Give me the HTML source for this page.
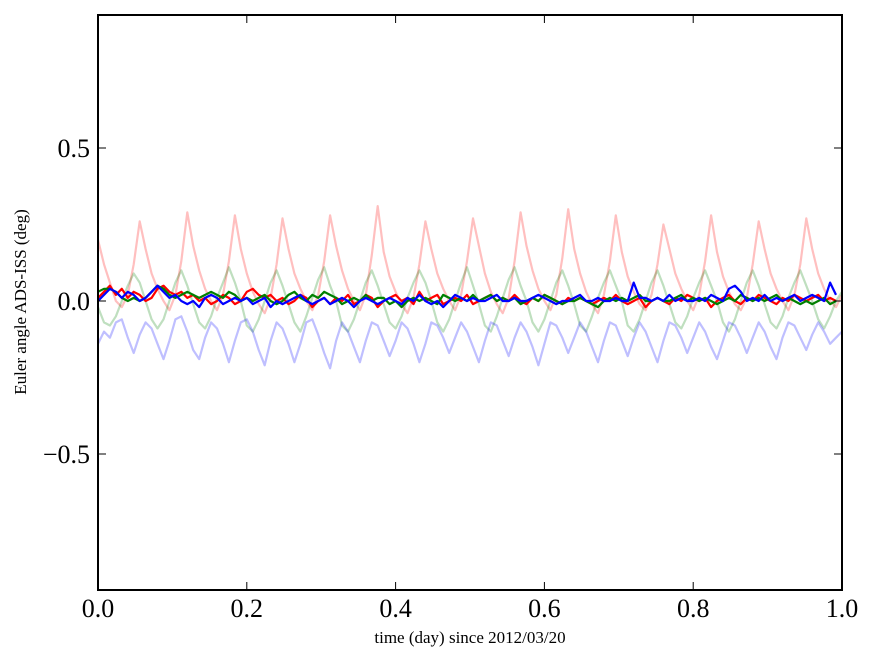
<!DOCTYPE html>
<html><head><meta charset="utf-8"><style>
html,body{margin:0;padding:0;background:#fff;}
svg text{font-family:"Liberation Serif",serif;fill:#000;}
</style></head><body>
<svg id="chart" width="875" height="662" xmlns="http://www.w3.org/2000/svg">
<defs><clipPath id="clip"><rect x="98" y="15" width="744" height="575"/></clipPath></defs>
<rect x="0" y="0" width="875" height="662" fill="#fff"/>
<g id="series" clip-path="url(#clip)"></g>
<g id="axes"></g>
<text x="470" y="643" font-size="17" text-anchor="middle">time (day) since 2012/03/20</text>
<text x="26" y="302" font-size="17" text-anchor="middle" transform="rotate(-90 26 302)">Euler angle ADS-ISS (deg)</text>
</svg>
<script>
const xStep = 0.008;
const xTicks = [0.0, 0.2, 0.4, 0.6, 0.8, 1.0];
const xTickLabels = ["0.0","0.2","0.4","0.6","0.8","1.0"];
const yTicks = [-0.5, 0.0, 0.5];
const yTickLabels = ["\u22120.5","0.0","0.5"];
const pinkLight = [0.2,0.12,0.06,0.0,-0.02,0.02,0.12,0.26,
0.17,0.09,0.04,0.0,-0.03,0.02,0.13,0.29,
0.18,0.1,0.04,0.0,-0.03,0.02,0.13,0.28,
0.17,0.09,0.03,-0.01,-0.04,0.01,0.12,0.27,
0.17,0.09,0.04,0.0,-0.03,0.02,0.13,0.28,
0.18,0.1,0.04,0.0,-0.03,0.02,0.15,0.31,
0.16,0.08,0.03,-0.01,-0.04,0.01,0.12,0.26,
0.17,0.09,0.04,0.0,-0.03,0.02,0.13,0.27,
0.18,0.09,0.03,-0.01,-0.04,0.01,0.13,0.29,
0.18,0.1,0.04,0.0,-0.03,0.02,0.14,0.30,
0.17,0.09,0.03,-0.01,-0.04,0.02,0.13,0.28,
0.16,0.08,0.03,-0.01,-0.03,0.02,0.12,0.25,
0.17,0.09,0.04,0.0,-0.03,0.02,0.13,0.28,
0.16,0.08,0.03,-0.01,-0.03,0.01,0.12,0.26,
0.17,0.09,0.04,0.0,-0.03,0.02,0.12,0.27,
0.17,0.09,0.04,0.0,-0.02,0.02];
const greenLight = [-0.02,-0.07,-0.08,-0.05,0.0,0.05,0.09,0.06,
0.0,-0.06,-0.09,-0.06,0.0,0.06,0.1,0.05,
-0.01,-0.07,-0.09,-0.05,0.01,0.06,0.11,0.06,
0.0,-0.08,-0.1,-0.06,0.0,0.06,0.1,0.05,
-0.01,-0.07,-0.1,-0.05,0.01,0.07,0.11,0.05,
0.0,-0.08,-0.1,-0.06,0.0,0.06,0.1,0.05,
-0.01,-0.07,-0.09,-0.05,0.01,0.06,0.1,0.06,
0.0,-0.07,-0.1,-0.06,0.0,0.06,0.11,0.05,
-0.01,-0.08,-0.1,-0.05,0.01,0.07,0.11,0.05,
0.0,-0.07,-0.1,-0.06,0.0,0.06,0.1,0.05,
-0.01,-0.08,-0.1,-0.05,0.01,0.06,0.1,0.05,
0.0,-0.08,-0.1,-0.06,0.0,0.06,0.1,0.05,
-0.01,-0.07,-0.09,-0.05,0.01,0.06,0.1,0.05,
0.0,-0.07,-0.1,-0.06,0.0,0.06,0.1,0.05,
-0.01,-0.07,-0.09,-0.05,0.01,0.06,0.1,0.05,
0.0,-0.06,-0.09,-0.05,0.0,0.03];
const blueLight = [-0.14,-0.1,-0.12,-0.07,-0.06,-0.12,-0.17,-0.11,
-0.07,-0.09,-0.14,-0.19,-0.13,-0.06,-0.05,-0.1,
-0.16,-0.19,-0.12,-0.07,-0.09,-0.14,-0.2,-0.13,
-0.07,-0.06,-0.1,-0.16,-0.21,-0.13,-0.07,-0.09,
-0.14,-0.2,-0.14,-0.07,-0.06,-0.11,-0.17,-0.22,
-0.13,-0.07,-0.1,-0.15,-0.2,-0.13,-0.07,-0.08,
-0.13,-0.18,-0.13,-0.07,-0.09,-0.14,-0.2,-0.14,
-0.07,-0.08,-0.12,-0.17,-0.12,-0.07,-0.1,-0.15,
-0.2,-0.13,-0.07,-0.08,-0.13,-0.18,-0.12,-0.07,
-0.1,-0.15,-0.21,-0.14,-0.07,-0.08,-0.12,-0.17,
-0.12,-0.07,-0.1,-0.15,-0.2,-0.13,-0.07,-0.08,
-0.13,-0.18,-0.12,-0.07,-0.1,-0.15,-0.2,-0.13,
-0.07,-0.08,-0.12,-0.17,-0.12,-0.07,-0.1,-0.15,
-0.19,-0.13,-0.07,-0.08,-0.12,-0.17,-0.12,-0.07,
-0.1,-0.15,-0.19,-0.12,-0.07,-0.08,-0.12,-0.16,
-0.11,-0.07,-0.1,-0.14,-0.12,-0.1];
const redDark = [0.01,0.03,0.05,0.02,0.04,0.01,0.03,0.02,0.0,0.01,
0.04,0.05,0.03,0.02,0.03,0.01,0.02,0.0,0.01,-0.01,
0.0,0.02,0.01,-0.01,0.0,0.03,0.04,0.02,0.01,0.02,
0.0,0.01,-0.01,0.0,0.02,0.01,-0.02,0.0,0.01,-0.01,
0.01,0.0,0.02,-0.01,0.0,0.02,0.01,-0.02,0.0,0.01,
0.02,0.0,0.01,-0.01,0.03,0.0,0.01,0.02,-0.01,0.0,
0.01,0.0,0.02,-0.01,0.0,0.01,0.02,0.0,0.01,0.0,
0.02,0.0,-0.01,0.01,0.0,0.02,0.01,0.0,-0.01,0.01,
0.0,0.01,0.0,-0.01,0.0,0.01,0.0,0.02,0.0,-0.01,
0.0,0.01,-0.02,0.0,0.01,0.0,-0.01,0.01,0.0,0.02,
0.01,0.0,0.01,-0.02,0.0,0.01,0.02,0.0,-0.01,0.01,
0.0,0.02,0.01,0.0,-0.01,0.01,0.0,0.02,0.01,0.0,
0.01,0.02,0.0,0.01,0.0];
const greenDark = [0.03,0.04,0.04,0.03,0.01,0.0,0.01,0.0,0.01,0.03,
0.05,0.04,0.02,0.01,0.02,0.03,0.02,0.01,0.02,0.03,
0.02,0.01,0.03,0.02,0.0,0.01,0.0,0.01,0.02,0.0,
-0.01,0.0,0.02,0.03,0.01,0.0,0.02,0.01,0.03,0.02,
0.01,-0.01,0.0,0.01,0.0,0.02,0.0,0.01,0.01,-0.01,
0.0,-0.02,0.0,0.01,0.0,0.01,0.0,-0.01,0.02,0.01,
0.0,0.01,0.0,0.02,0.0,0.01,0.02,0.0,0.01,0.0,
0.01,-0.01,0.0,0.01,0.0,0.02,0.01,0.0,-0.01,0.0,
0.0,0.01,0.0,-0.01,-0.02,0.0,0.01,0.0,0.01,0.0,
0.01,0.02,0.0,0.0,0.01,0.0,0.0,0.01,0.02,0.0,
0.01,0.0,0.01,0.0,-0.01,0.0,0.01,0.0,0.02,0.01,
0.0,0.01,0.0,0.01,0.02,0.0,0.01,0.0,-0.01,0.0,
-0.01,0.0,0.01,-0.01,0.0];
const blueDark = [0.0,0.02,0.04,0.03,0.01,0.03,0.02,0.0,0.01,0.03,
0.05,0.03,0.01,0.02,0.0,-0.01,0.0,-0.02,0.01,0.02,
0.01,-0.01,0.0,0.01,0.0,0.01,-0.01,0.0,0.01,-0.02,
0.0,-0.01,0.0,0.01,0.02,0.0,-0.01,0.0,0.01,-0.01,
0.0,0.01,0.0,-0.02,0.0,0.01,0.0,-0.01,0.0,0.01,
0.0,-0.01,0.01,0.0,0.02,0.0,-0.01,0.0,-0.02,0.0,
0.02,0.01,0.0,0.01,0.0,0.0,0.01,0.02,0.0,0.0,
0.01,0.0,0.0,0.01,0.02,0.01,0.0,-0.01,0.0,0.0,
0.01,0.02,0.0,0.0,0.01,0.0,0.0,0.01,0.0,0.0,
0.06,0.01,0.01,0.0,0.01,0.0,0.02,0.0,0.01,0.0,
0.0,0.01,0.0,0.02,0.01,0.0,0.04,0.05,0.03,0.0,
0.01,0.0,0.02,0.0,0.01,0.0,0.01,0.02,0.0,0.01,
0.02,0.01,0.0,0.06,0.02];

const X0=98, X1=842, Y0=15, Y1=590;
function xs(v){return X0+(v-0)/(1-0)*(X1-X0);}
function ys(v){return 301 - v*306;}
const NS="http://www.w3.org/2000/svg";
const g=document.getElementById('series');
const seriesList=[
 [pinkLight,'#ff0000',0.25,'pink-roll-series'],
 [greenLight,'#008000',0.25,'light-green-pitch-series'],
 [blueLight,'#0000ff',0.25,'light-blue-yaw-series'],
 [redDark,'#ff0000',1,'red-roll-series'],
 [greenDark,'#008000',1,'green-pitch-series'],
 [blueDark,'#0000ff',1,'blue-yaw-series']];
seriesList.forEach(s=>{
 const p=document.createElementNS(NS,'path');
 const d=s[0].map((v,i)=>(i?'L':'M')+xs(i*xStep).toFixed(1)+','+ys(v).toFixed(1)).join('');
 p.setAttribute('d',d);p.setAttribute('fill','none');p.setAttribute('stroke',s[1]);
 p.setAttribute('stroke-opacity',s[2]);p.setAttribute('stroke-width',2.2);p.setAttribute('stroke-linejoin','round');
 
 
 g.appendChild(p);
});
const ax=document.getElementById('axes');
function el(tag,attrs,txt){const e=document.createElementNS(NS,tag);for(const k in attrs)e.setAttribute(k,attrs[k]);if(txt!==undefined)e.textContent=txt;ax.appendChild(e);return e;}
const frame=el('rect',{x:X0,y:Y0,width:X1-X0,height:Y1-Y0,fill:'none',stroke:'#000','stroke-width':2});


xTicks.forEach((t,i)=>{
 const x=xs(t);
 el('line',{x1:x,y1:Y1,x2:x,y2:Y1-8,stroke:'#000','stroke-width':1});
 el('line',{x1:x,y1:Y0,x2:x,y2:Y0+8,stroke:'#000','stroke-width':1});
 const tx=el('text',{x:x,y:617,'font-size':26,'text-anchor':'middle'},xTickLabels[i]);
 
 
});
yTicks.forEach((t,i)=>{
 const y=ys(t);
 el('line',{x1:X0,y1:y,x2:X0+8,y2:y,stroke:'#000','stroke-width':1});
 el('line',{x1:X1,y1:y,x2:X1-8,y2:y,stroke:'#000','stroke-width':1});
 const tx=el('text',{x:90,y:y+9,'font-size':26,'text-anchor':'end'},yTickLabels[i]);
 
 
});
</script>
</body></html>
